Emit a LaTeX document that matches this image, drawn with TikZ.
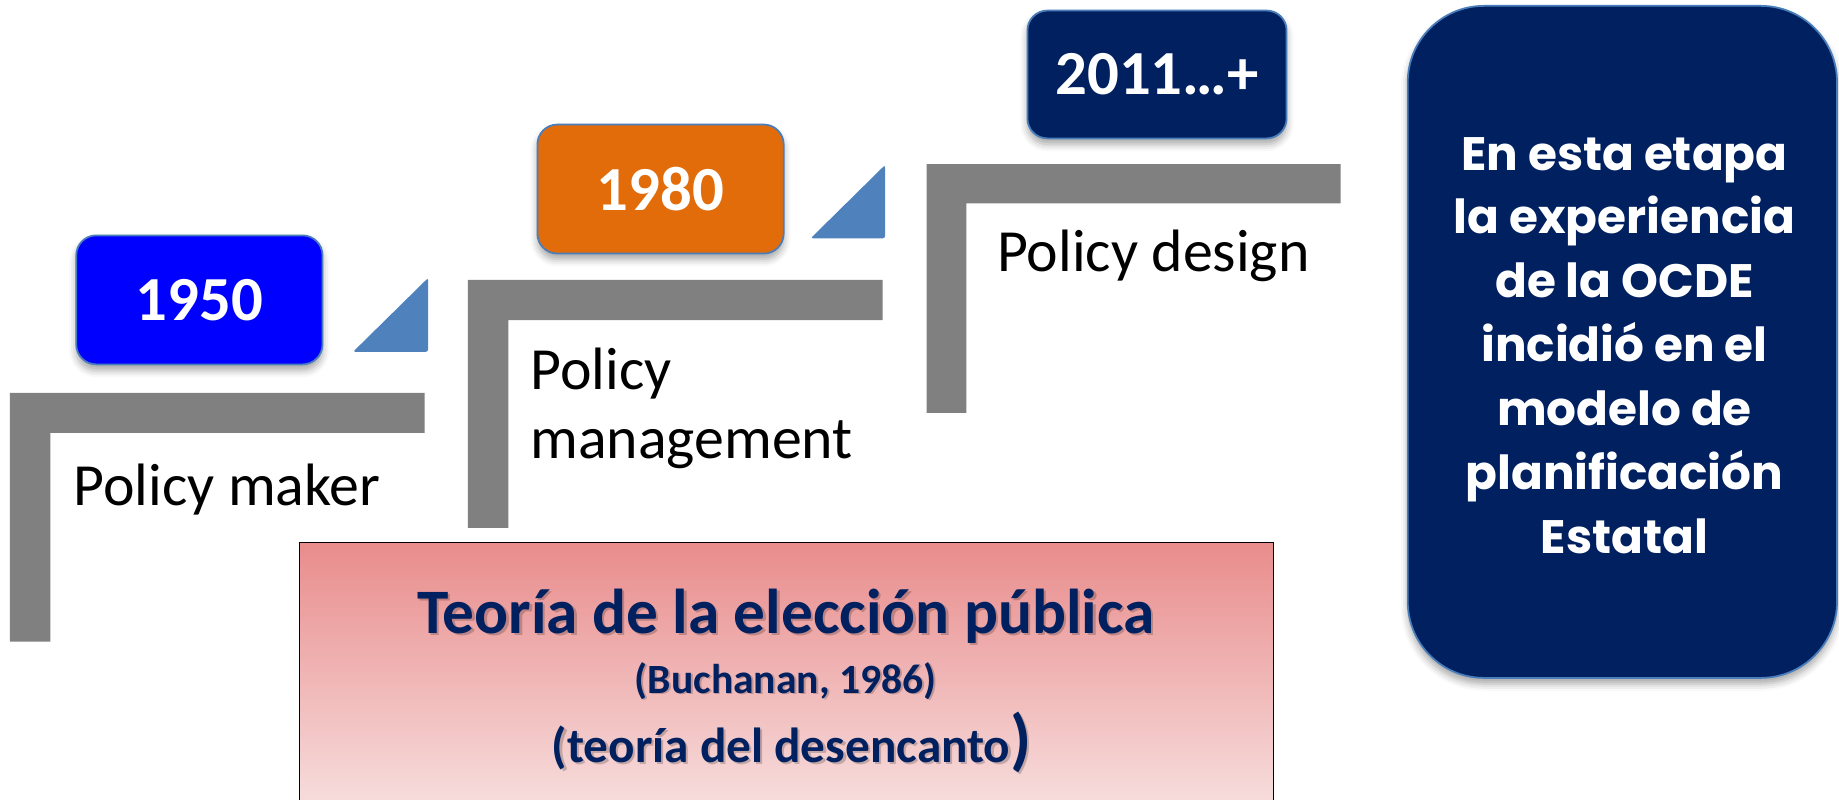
\documentclass[tikz,border=0pt]{standalone}
\usepackage{fontspec}
\setmainfont{Carlito}
\newfontfamily\geofont{Poppins}
\usetikzlibrary{shadows.blur}
\definecolor{yblue}{HTML}{0000FF}
\definecolor{yorange}{HTML}{E36C0A}
\definecolor{ynavy}{HTML}{002060}
\definecolor{edgeblue}{HTML}{4A7EBB}
\definecolor{triblue}{HTML}{4F81BD}
\definecolor{stepgray}{HTML}{808080}
\definecolor{pinktop}{HTML}{E98C8C}
\definecolor{pinkbot}{HTML}{F8E3E3}
\tikzset{
  yearbox/.style={draw=edgeblue, line width=1.5pt, rounded corners=17pt,
    minimum width=210, minimum height=110, inner sep=0pt, text=white,
    font=\bfseries\fontsize{53.5}{53.5}\selectfont,
    blur shadow={shadow xshift=0pt, shadow yshift=-5pt, shadow blur radius=6pt, shadow opacity=35}},
  steplabel/.style={anchor=base west, inner sep=0pt, text=black, font=\fontsize{51}{51}\selectfont},
  ocdetext/.style={anchor=base, inner sep=0pt, text=white, font=\geofont\bfseries\fontsize{40}{40}\selectfont},
  theory/.style={anchor=base, inner sep=0pt, text=ynavy},
  theoryshadow/.style={anchor=base, inner sep=0pt, text=black, opacity=0.2},
  stepfill/.style={fill=stepgray},
  trifill/.style={fill=triblue, rounded corners=2pt}
}
\begin{document}
\begin{tikzpicture}[x=1pt,y=-1pt]
\useasboundingbox (0,0) rectangle (1568,682);
% gray steps
\fill[stepfill] (8.5,335) -- (362,335) -- (362,369) -- (43,369) -- (43,547) -- (8.5,547) -- cycle;
\fill[stepfill] (399,238.7) -- (752.6,238.7) -- (752.6,273) -- (433.4,273) -- (433.4,450) -- (399,450) -- cycle;
\fill[stepfill] (790,140) -- (1143,140) -- (1143,173.4) -- (824,173.4) -- (824,352) -- (790,352) -- cycle;
% triangles
\fill[trifill] (301,300) -- (365,237) -- (365,300) -- cycle;
\fill[trifill] (691.2,203.2) -- (754.6,140.7) -- (754.6,203.2) -- cycle;
% year boxes
\node[yearbox, fill=yblue] (y1950) at (170,255.7) {1950};
\node[yearbox, fill=yorange] (y1980) at (563.2,161.2) {1980};
\node[yearbox, fill=ynavy, minimum width=221, minimum height=109] (y2011) at (986.5,63.5) {2011…+};
% step labels
\node[steplabel] (lmaker) at (62.5,430.6) {Policy maker};
\node[steplabel] (lpolicy) at (452,332.5) {Policy};
\node[steplabel] (lmanage) at (452,390.6) {management};
\node[steplabel] (ldesign) at (850,231.6) {Policy design};
% right box
\node[draw=edgeblue, line width=1.5pt, fill=ynavy, rounded corners=65pt,
  minimum width=366, minimum height=573, inner sep=0pt,
  blur shadow={shadow xshift=0pt, shadow yshift=-5pt, shadow blur radius=6pt, shadow opacity=35}] (ocde) at (1383.3,291.5) {};
\foreach \t [count=\i from 0] in {En esta etapa, la experiencia, de la OCDE, incidió en el, modelo de, planificación, Estatal}
  \node[ocdetext] (ocdeline\i) at (1385,145+54.5*\i) {\t};
% theory box
\node[draw=black, line width=1.2pt, top color=pinktop, bottom color=pinkbot,
  minimum width=830, minimum height=240, inner sep=0pt, anchor=north west] (theorybox) at (255,462) {};
\node[theoryshadow, font=\bfseries\fontsize{54}{54}\selectfont] (t1s) at (672,542) {Teoría de la elección pública};
\node[theory, font=\bfseries\fontsize{54}{54}\selectfont] (t1) at (670,540) {Teoría de la elección pública};
\node[theoryshadow, font=\bfseries\fontsize{35.5}{35.5}\selectfont] (t2s) at (671.5,592.5) {(Buchanan, 1986)};
\node[theory, font=\bfseries\fontsize{35.5}{35.5}\selectfont] (t2) at (670,591) {(Buchanan, 1986)};
\node[theoryshadow, font=\bfseries] (t3s) at (677,652) {{\fontsize{42}{42}\selectfont (teoría del desencanto}{\fontsize{58}{58}\selectfont )}};
\node[theory, font=\bfseries] (t3) at (675,650) {{\fontsize{42}{42}\selectfont (teoría del desencanto}{\fontsize{58}{58}\selectfont )}};
\end{tikzpicture}
\end{document}
